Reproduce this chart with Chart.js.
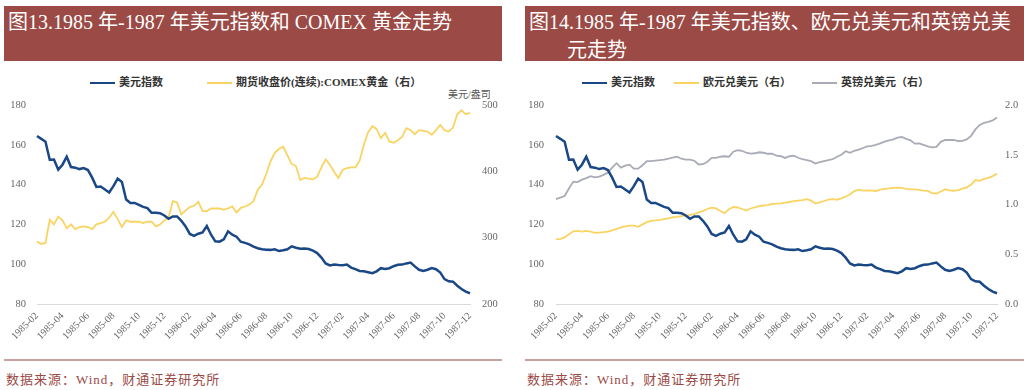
<!DOCTYPE html>
<html>
<head>
<meta charset="utf-8">
<script src="https://cdn.jsdelivr.net/npm/chart.js@4.4.0/dist/chart.umd.min.js"></script>
<style>
    body {
        margin: 0;
        width: 1024px;
        height: 390px;
        background: #fff;
        overflow: hidden;
        position: relative;
        font-family: "Liberation Serif", "Noto Sans CJK SC", serif;
    }

    .titulo {
        position: absolute;
        top: 6px;
        height: 55px;
        background: #9b4a46;
        color: #fff;
        font-size: 20px;
        line-height: 28px;
        box-sizing: border-box;
        padding: 2px 0 0 4px;
        white-space: nowrap;
        overflow: hidden;
    }

    .fonte {
        position: absolute;
        top: 359px;
        height: 30px;
        box-sizing: border-box;
        border-top: 2px solid #c9a19d;
        color: #9b4a46;
        font-size: 13px;
        letter-spacing: 1px;
        padding: 8px 0 0 2px;
    }

    .caixa {
        position: absolute;
        top: 62px;
    }

    .legenda {
        position: absolute;
        top: 75px;
        font-size: 11px;
        font-weight: bold;
        color: #333;
        white-space: nowrap;
        line-height: 14px;
    }

    .legenda i {
        display: inline-block;
        width: 25px;
        height: 2px;
        vertical-align: middle;
        margin-right: 4px;
    }

    .unidade {
        position: absolute;
        top: 89px;
        font-size: 10px;
        line-height: 12px;
        color: #555;
    }
</style>
</head>
<body>

<div class="titulo" style="left:4px; width:498px;">图13.1985 年-1987 年美元指数和 COMEX 黄金走势</div>
<div class="titulo" style="left:525px; width:499px;">图14.1985 年-1987 年美元指数、欧元兑美元和英镑兑美<br><span style="padding-left:38px">元走势</span></div>

<div class="legenda" style="left:90px;"><i style="background:#1a4886"></i>美元指数</div>
<div class="legenda" style="left:207px;"><i style="background:#f9d462"></i>期货收盘价(连续):COMEX黄金（右）</div>
<div class="unidade" style="left:448px;">美元/盎司</div>

<div class="legenda" style="left:582px;"><i style="background:#1a4886"></i>美元指数</div>
<div class="legenda" style="left:674px;"><i style="background:#f9d462"></i>欧元兑美元（右）</div>
<div class="legenda" style="left:812px;"><i style="background:#a9acb6"></i>英镑兑美元（右）</div>

<canvas id="graficoOuro" class="caixa" style="left:0px;" width="512" height="296"></canvas>
<canvas id="graficoCambio" class="caixa" style="left:512px;" width="512" height="296"></canvas>

<div class="fonte" style="left:4px; width:498px;">数据来源：Wind，财通证券研究所</div>
<div class="fonte" style="left:525px; width:499px;">数据来源：Wind，财通证券研究所</div>

<script>
// rótulos do eixo x (a cada 2 meses)
var rotulosEixo = ['1985-02', '1985-04', '1985-06', '1985-08', '1985-10', '1985-12',
    '1986-02', '1986-04', '1986-06', '1986-08', '1986-10', '1986-12',
    '1987-02', '1987-04', '1987-06', '1987-08', '1987-10', '1987-12'];

// datas: dias 01, 11 e 21 de cada mês, de 1985-02-01 até 1987-12-01
var datas = [];
for (let ano = 1985; ano <= 1987; ano++) {
    for (let mes = 1; mes <= 12; mes++) {
        if (ano == 1985 && mes == 1) continue;
        let m = (mes < 10 ? '0' : '') + mes;
        datas.push(`${ano}-${m}-01`);
        if (ano == 1987 && mes == 12) break;
        datas.push(`${ano}-${m}-11`);
        datas.push(`${ano}-${m}-21`);
    }
}

// valores
var indiceDolar = [164.4, 163, 161.5, 152.5, 152.6, 147.5, 150, 154, 148.8, 148.5,
    147.8, 148.3, 147.3, 143.5, 138.8, 139, 137.5, 136, 139.2, 143,
    141.3, 132.5, 130.8, 130.8, 129.8, 128.8, 128.2, 125.8, 125.8, 125.6,
    124.5, 122.8, 124, 124, 121.8, 119, 115.2, 114.2, 115.3, 116,
    119.2, 114.8, 111.5, 111.3, 112.5, 116.5, 114.8, 113.8, 111.3, 110.7,
    110, 108.8, 108, 107.5, 107.3, 107.2, 107.5, 106.6, 107, 107.5,
    109, 108.3, 107.8, 107.9, 107.6, 106.8, 105.6, 103.3, 100.4, 99.4,
    99.8, 99.6, 99.5, 99.8, 98.3, 97.5, 96.6, 96.4, 96, 95.5,
    96.4, 98, 97.6, 98, 99, 99.7, 99.8, 100.4, 100.8, 98.9,
    97.2, 96.6, 97.2, 98.1, 97.5, 95.8, 92.5, 91.4, 91.2, 89.2,
    87.5, 86.2, 85.4];

var ouroComex = [294, 290.5, 292, 327, 320, 331.8, 326, 314, 320, 313,
    316, 317, 316, 313, 320, 322, 324, 330, 339, 328,
    316, 326, 324, 324, 324, 322, 324, 324, 317, 320,
    326, 331, 355, 353, 335, 341, 346, 348, 354, 340,
    340, 344, 344, 344, 342, 344, 347, 338, 345, 347,
    350, 355, 372, 380, 396, 415, 428, 434, 437, 424,
    411, 408, 387, 390, 389, 388, 392, 406, 418, 410,
    399, 390, 402, 405, 406, 406, 416, 440, 459, 468,
    464, 450, 458, 445, 443, 447, 452, 465, 462, 456,
    462, 461, 460, 455, 462, 470, 462, 460, 466, 486,
    492, 486, 488];

var euroDolar = [0.65, 0.655, 0.67, 0.70, 0.73, 0.735, 0.728, 0.735, 0.728, 0.716,
    0.718, 0.722, 0.728, 0.74, 0.754, 0.77, 0.78, 0.787, 0.787, 0.775,
    0.80, 0.822, 0.835, 0.84, 0.846, 0.854, 0.86, 0.872, 0.876, 0.884,
    0.888, 0.895, 0.904, 0.92, 0.935, 0.955, 0.968, 0.96, 0.935, 0.914,
    0.953, 0.975, 0.97, 0.955, 0.94, 0.96, 0.972, 0.984, 0.99, 0.993,
    1.005, 1.008, 1.012, 1.018, 1.025, 1.035, 1.04, 1.045, 1.053, 1.04,
    1.01, 1.022, 1.035, 1.05, 1.053, 1.048, 1.062, 1.08, 1.10, 1.135,
    1.15, 1.14, 1.142, 1.14, 1.136, 1.15, 1.158, 1.162, 1.168, 1.17,
    1.168, 1.158, 1.153, 1.153, 1.148, 1.14, 1.136, 1.115, 1.11, 1.13,
    1.153, 1.142, 1.138, 1.145, 1.16, 1.17, 1.2, 1.246, 1.238, 1.258,
    1.268, 1.285, 1.31];

var libraDolar = [1.055, 1.07, 1.085, 1.16, 1.23, 1.225, 1.25, 1.265, 1.285, 1.272,
    1.28, 1.298, 1.32, 1.37, 1.415, 1.37, 1.39, 1.40, 1.36, 1.36,
    1.395, 1.435, 1.435, 1.44, 1.445, 1.452, 1.46, 1.47, 1.48, 1.46,
    1.452, 1.45, 1.44, 1.402, 1.405, 1.43, 1.468, 1.468, 1.48, 1.485,
    1.48, 1.53, 1.545, 1.54, 1.52, 1.512, 1.515, 1.525, 1.52, 1.51,
    1.51, 1.49, 1.485, 1.468, 1.485, 1.49, 1.47, 1.455, 1.445, 1.435,
    1.412, 1.425, 1.435, 1.445, 1.455, 1.48, 1.50, 1.535, 1.52, 1.54,
    1.552, 1.568, 1.585, 1.59, 1.60, 1.615, 1.632, 1.645, 1.655, 1.672,
    1.678, 1.66, 1.645, 1.612, 1.615, 1.60, 1.585, 1.575, 1.58, 1.63,
    1.65, 1.648, 1.65, 1.638, 1.64, 1.655, 1.69, 1.755, 1.80, 1.82,
    1.83, 1.845, 1.875];

var AZUL = '#1a4886';
var AMARELO = '#f9d462';
var CINZA = '#a9acb6';
var fonteTicks = { family: 'Liberation Serif', size: 10.5 };
var corTicks = '#666666';

function eixoX() {
    return {
        grid: { display: false, drawTicks: false },
        border: { color: '#d9d9d9', width: 1 },
        ticks: {
            autoSkip: false,
            minRotation: 45,
            maxRotation: 45,
            padding: 6,
            font: { family: 'Liberation Serif', size: 10 },
            color: corTicks,
            callback: function (valor, i) {
                return i % 6 == 0 ? rotulosEixo[i / 6] : '';
            }
        },
        afterFit: function (escala) { escala.height = 54; }
    };
}

function eixoY(lado, min, max, passo, padding, largura, casas) {
    return {
        position: lado,
        min: min,
        max: max,
        grid: { display: false, drawTicks: false },
        border: { display: false },
        ticks: {
            stepSize: passo,
            padding: padding,
            font: fonteTicks,
            color: corTicks,
            callback: function (valor) { return valor.toFixed(casas); }
        },
        afterFit: function (escala) { escala.width = largura; }
    };
}

function opcoes(escalas) {
    return {
        responsive: false,
        animation: false,
        layout: { padding: { top: 43, left: 0, right: 0, bottom: 0 } },
        elements: { point: { radius: 0 }, line: { tension: 0 } },
        plugins: { legend: { display: false }, tooltip: { enabled: false } },
        scales: escalas
    };
}

// gráfico 13: dólar x ouro
new Chart(document.getElementById('graficoOuro'), {
    type: 'line',
    data: {
        labels: datas,
        datasets: [
            { label: '美元指数', data: indiceDolar, borderColor: AZUL, borderWidth: 2.5, yAxisID: 'y' },
            { label: '期货收盘价(连续):COMEX黄金（右）', data: ouroComex, borderColor: AMARELO, borderWidth: 1.8, yAxisID: 'y1' }
        ]
    },
    options: opcoes({
        x: eixoX(),
        y: eixoY('left', 80, 180, 20, 11, 37, 0),
        y1: eixoY('right', 200, 500, 100, 12, 42, 0)
    })
});

// gráfico 14: dólar x euro x libra
new Chart(document.getElementById('graficoCambio'), {
    type: 'line',
    data: {
        labels: datas,
        datasets: [
            { label: '美元指数', data: indiceDolar, borderColor: AZUL, borderWidth: 2.5, yAxisID: 'y' },
            { label: '欧元兑美元（右）', data: euroDolar, borderColor: AMARELO, borderWidth: 1.8, yAxisID: 'y1' },
            { label: '英镑兑美元（右）', data: libraDolar, borderColor: CINZA, borderWidth: 1.8, yAxisID: 'y1' }
        ]
    },
    options: opcoes({
        x: eixoX(),
        y: eixoY('left', 80, 180, 20, 12, 44, 0),
        y1: eixoY('right', 0, 2, 0.5, 8, 27, 1)
    })
});
</script>
</body>
</html>
